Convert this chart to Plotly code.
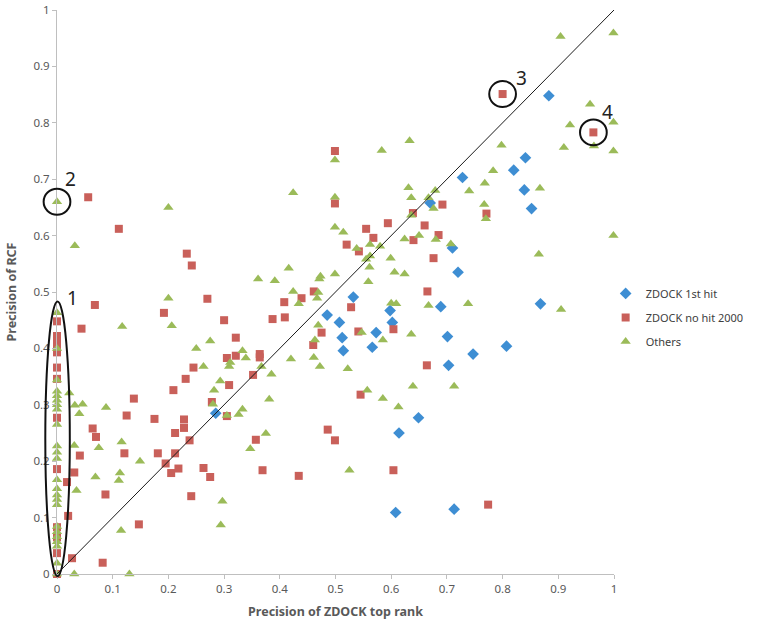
import plotly.graph_objects as go

# ZDOCK 1st hit (blue diamonds)
blue_x = [0.285, 0.532, 0.485, 0.507, 0.512, 0.514, 0.566, 0.573, 0.598, 0.602,
          0.649, 0.614, 0.608, 0.689, 0.868, 0.701, 0.747, 0.807, 0.703, 0.713,
          0.883, 0.841, 0.820, 0.839, 0.852, 0.728, 0.670, 0.710, 0.720]
blue_y = [0.285, 0.491, 0.459, 0.446, 0.419, 0.396, 0.402, 0.428, 0.467, 0.446,
          0.277, 0.250, 0.109, 0.474, 0.479, 0.421, 0.390, 0.404, 0.370, 0.115,
          0.848, 0.738, 0.716, 0.681, 0.648, 0.703, 0.658, 0.578, 0.535]

# ZDOCK no hit 2000 (red squares)
red_x = [0, 0, 0, 0, 0, 0, 0, 0, 0, 0, 0, 0, 0,
         0.068, 0.270, 0.192, 0.044, 0.300, 0.305, 0.321, 0.245, 0.231, 0.209,
         0.309, 0.138, 0.278, 0.125, 0.175, 0.305, 0.228, 0.064, 0.070, 0.212,
         0.228, 0.238, 0.041, 0.121, 0.181, 0.212, 0.195, 0.205, 0.218, 0.263,
         0.275, 0.031, 0.018, 0.087, 0.241, 0.020, 0.147, 0.027, 0.082,
         0.461, 0.439, 0.408, 0.409, 0.387, 0.528, 0.475, 0.460, 0.541, 0.604,
         0.665, 0.664, 0.321, 0.364, 0.364, 0.352, 0.357, 0.486, 0.499, 0.369,
         0.434, 0.604, 0.545, 0.774,
         0.499, 0.499, 0.555, 0.594, 0.568, 0.520, 0.542, 0.639, 0.660, 0.640,
         0.800, 0.963, 0.692, 0.685, 0.771, 0.676,
         0.056, 0.111, 0.233, 0.242]
red_y = [0.448, 0.422, 0.413, 0.404, 0.393, 0.366, 0.346, 0.277, 0.186, 0.083, 0.065, 0.037, 0.0,
         0.477, 0.488, 0.463, 0.435, 0.450, 0.383, 0.387, 0.366, 0.346, 0.326,
         0.335, 0.311, 0.305, 0.281, 0.275, 0.280, 0.274, 0.258, 0.243, 0.250,
         0.259, 0.237, 0.210, 0.214, 0.214, 0.214, 0.196, 0.179, 0.187, 0.188,
         0.172, 0.180, 0.163, 0.141, 0.138, 0.103, 0.088, 0.028, 0.020,
         0.501, 0.489, 0.482, 0.455, 0.452, 0.473, 0.428, 0.406, 0.430, 0.434,
         0.501, 0.370, 0.419, 0.390, 0.384, 0.353, 0.238, 0.256, 0.237, 0.184,
         0.174, 0.184, 0.318, 0.123,
         0.750, 0.657, 0.612, 0.622, 0.596, 0.584, 0.572, 0.640, 0.618, 0.592,
         0.851, 0.783, 0.655, 0.601, 0.639, 0.560,
         0.668, 0.612, 0.568, 0.547]

# Others (green triangles)
green_x = [0] * 24 + [
    0.200, 0.206, 0.117, 0.275, 0.250, 0.263, 0.311, 0.309, 0.293, 0.282,
    0.280, 0.305, 0.326, 0.022, 0.032, 0.046, 0.040, 0.088, 0.116, 0.075,
    0.031, 0.149, 0.069, 0.113, 0.111, 0.035, 0.297, 0.115, 0.294, 0.031,
    0.130,
    0.361, 0.391, 0.471, 0.559, 0.424, 0.469, 0.467, 0.434, 0.600, 0.609,
    0.667, 0.469, 0.547, 0.585, 0.636, 0.463, 0.333, 0.339, 0.420, 0.461,
    0.472, 0.367, 0.385, 0.522, 0.557, 0.639, 0.585, 0.613, 0.381, 0.333,
    0.375, 0.347, 0.525, 0.738, 0.905, 0.713,
    0.633, 0.583, 0.499, 0.424, 0.631, 0.636, 0.499, 0.667, 0.636, 0.499,
    0.514, 0.650, 0.624, 0.562, 0.580, 0.538, 0.555, 0.562, 0.599, 0.561,
    0.606, 0.624, 0.499, 0.473, 0.416,
    0.904, 0.999, 0.957, 0.921, 0.999, 0.910, 0.964, 0.999, 0.798, 0.783,
    0.768, 0.740, 0.867, 0.767, 0.770, 0.999, 0.865, 0.707, 0.680, 0.676,
    0.679, 0.200, 0.032, 0.0]
green_y = [0.463, 0.400, 0.344, 0.324, 0.316, 0.308, 0.300, 0.292, 0.265, 0.227,
           0.216, 0.205, 0.167, 0.151, 0.140, 0.132, 0.123, 0.084, 0.075, 0.066,
           0.057, 0.049, 0.019, 0.0] + [
    0.489, 0.440, 0.439, 0.413, 0.400, 0.368, 0.375, 0.368, 0.342, 0.326,
    0.301, 0.281, 0.283, 0.321, 0.299, 0.301, 0.284, 0.295, 0.234, 0.224,
    0.228, 0.200, 0.172, 0.179, 0.166, 0.148, 0.129, 0.077, 0.087, 0.0,
    0.0,
    0.523, 0.520, 0.523, 0.518, 0.501, 0.499, 0.489, 0.479, 0.480, 0.479,
    0.476, 0.441, 0.428, 0.415, 0.425, 0.415, 0.396, 0.383, 0.381, 0.384,
    0.368, 0.368, 0.354, 0.364, 0.326, 0.333, 0.311, 0.296, 0.310, 0.292,
    0.249, 0.222, 0.184, 0.479, 0.469, 0.333,
    0.768, 0.751, 0.734, 0.676, 0.685, 0.667, 0.668, 0.667, 0.636, 0.615,
    0.606, 0.600, 0.594, 0.584, 0.581, 0.577, 0.558, 0.564, 0.560, 0.544,
    0.535, 0.532, 0.532, 0.528, 0.542,
    0.953, 0.959, 0.833, 0.796, 0.801, 0.756, 0.759, 0.750, 0.760, 0.715,
    0.693, 0.679, 0.684, 0.655, 0.630, 0.600, 0.567, 0.585, 0.593, 0.648,
    0.680, 0.650, 0.582, 0.660]

# annotated cases: label, label position, highlighted point
case_labels = ["1", "2", "3", "4"]
case_label_x = [0.027, 0.025, 0.834, 0.988]
case_label_y = [0.49, 0.70, 0.879, 0.82]
circle_x = [0.0, 0.800, 0.963]
circle_y = [0.660, 0.851, 0.783]

FONT = "Noto Sans"
fig = go.Figure()
fig.add_trace(go.Scatter(x=blue_x, y=blue_y, mode="markers", name="ZDOCK 1st hit",
                         marker=dict(symbol="diamond", size=9, color="#3E8ED3"),
                         cliponaxis=False, legendgroup="a"))
fig.add_trace(go.Scatter(x=red_x, y=red_y, mode="markers", name="ZDOCK no hit 2000",
                         marker=dict(symbol="square", size=8, color="#C9605A"),
                         cliponaxis=False, legendgroup="b"))
fig.add_trace(go.Scatter(x=green_x, y=green_y, mode="markers", name="Others",
                         marker=dict(symbol="triangle-up", size=9, color="#9BBB59"),
                         cliponaxis=False, legendgroup="c"))

# diagonal reference line
fig.add_trace(go.Scatter(x=[0, 1], y=[0, 1], mode="lines", showlegend=False,
                         line=dict(color="#1a1a1a", width=1), hoverinfo="skip"))

# highlighted regions (paper coords == data coords since range is [0,1])
fig.add_shape(type="circle", xref="paper", yref="paper", x0=-0.021, x1=0.023, y0=-0.004, y1=0.483,
              line=dict(color="#111111", width=2))
for cx, cy in zip(circle_x, circle_y):
    fig.add_shape(type="circle", xref="paper", yref="paper", x0=cx - 0.024, x1=cx + 0.024,
                  y0=cy - 0.023, y1=cy + 0.023, line=dict(color="#111111", width=2))

for t, lx, ly in zip(case_labels, case_label_x, case_label_y):
    fig.add_annotation(x=lx, y=ly, text=t, showarrow=False, xanchor="center", yanchor="middle",
                       font=dict(family=FONT, size=19, color="#222222"))

axis_common = dict(range=[0, 1], dtick=0.1, tick0=0, showgrid=False, zeroline=False,
                   showline=True, linecolor="#BFBFBF", linewidth=1, ticks="outside",
                   ticklen=4, tickcolor="#BFBFBF", automargin=False,
                   tickfont=dict(family=FONT, size=11.5, color="#595959"))
fig.update_xaxes(**axis_common,
                 title=dict(text="<b>Precision of ZDOCK top rank</b>", standoff=12,
                            font=dict(family=FONT, size=12.5, color="#595959")))
fig.update_yaxes(**axis_common,
                 title=dict(text="<b>Precision of RCF</b>", standoff=14,
                            font=dict(family=FONT, size=12.5, color="#595959")))

fig.update_layout(
    width=764, height=630,
    margin=dict(l=57, r=150, t=10, b=56),
    plot_bgcolor="white", paper_bgcolor="white",
    showlegend=True,
    legend=dict(x=0.985, y=0.455, xanchor="left", yanchor="middle",
                font=dict(family=FONT, size=11, color="#404040"),
                traceorder="grouped", tracegroupgap=5, itemwidth=30,
                bgcolor="rgba(0,0,0,0)"),
)

fig.write_html("out.html", config={"displayModeBar": False},
               post_script="document.body.style.margin='0';")
